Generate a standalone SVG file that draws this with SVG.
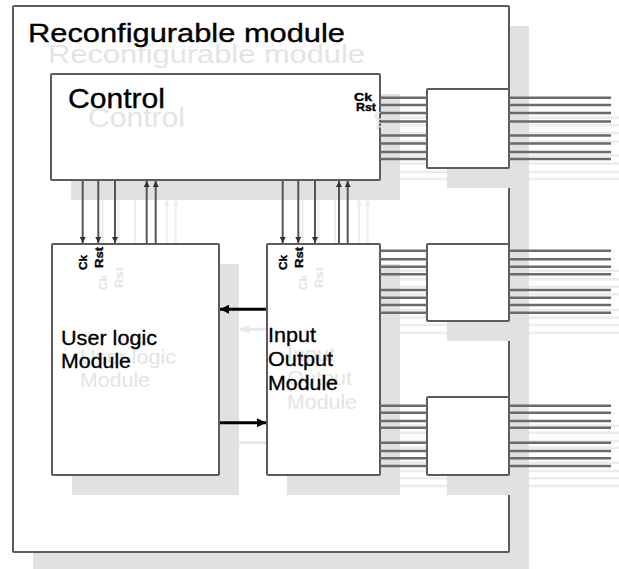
<svg xmlns="http://www.w3.org/2000/svg" width="619" height="569" viewBox="0 0 619 569">
<style>
text{font-family:"Liberation Sans",Arial,sans-serif;}
.box{fill:#fff;stroke:#5c5c5c;stroke-width:2;}
.bsh{fill:#e1e1e1;stroke:none;}
.t{fill:#000;stroke:#000;stroke-width:0.35;}
.ts{fill:#e4e4e4;}
.lbl{font-size:11px;font-weight:bold;}
.wire{stroke:#6a6a6a;stroke-width:2.4;fill:none;}
.wsh{stroke:#ececec;stroke-width:2.4;fill:none;}
.va{stroke:#555;stroke-width:2;fill:none;marker-end:url(#sa);}
.vas{stroke:#ededed;stroke-width:2;fill:none;marker-end:url(#sas);}
.ba{stroke:#000;stroke-width:3;fill:none;marker-end:url(#ba);}
.bas{stroke:#e8e8e8;stroke-width:3;fill:none;marker-end:url(#bas);}
</style>
<defs>
<marker id="sa" markerUnits="userSpaceOnUse" markerWidth="6" markerHeight="6" refX="6" refY="3" orient="auto"><path d="M0,0 L6,3 L0,6 z" fill="#333"/></marker>
<marker id="sas" markerUnits="userSpaceOnUse" markerWidth="6" markerHeight="6" refX="6" refY="3" orient="auto"><path d="M0,0 L6,3 L0,6 z" fill="#ededed"/></marker>
<marker id="ba" markerUnits="userSpaceOnUse" markerWidth="10" markerHeight="10" refX="9" refY="4.5" orient="auto"><path d="M0,0 L9,4.5 L0,9 z" fill="#000"/></marker>
<marker id="bas" markerUnits="userSpaceOnUse" markerWidth="10" markerHeight="10" refX="9" refY="4.5" orient="auto"><path d="M0,0 L9,4.5 L0,9 z" fill="#e8e8e8"/></marker>
</defs>

<g id="reconfigurable-module">
<rect class="bsh" x="33" y="26" width="496" height="546"/>
<rect class="box" x="13" y="6" width="496" height="546" rx="1"/>
<text class="ts" x="48" y="63" font-size="26" textLength="317" lengthAdjust="spacingAndGlyphs">Reconfigurable module</text>
<text class="t" x="28" y="42" font-size="26" textLength="317" lengthAdjust="spacingAndGlyphs">Reconfigurable module</text>
</g>

<g id="control">
<rect class="bsh" x="71" y="94" width="329" height="106"/>
<rect class="box" x="51" y="74" width="329" height="106" rx="1"/>
<text class="ts" x="88" y="127" font-size="28" textLength="97" lengthAdjust="spacingAndGlyphs">Control</text>
<text class="t" x="68" y="108" font-size="28" textLength="97" lengthAdjust="spacingAndGlyphs">Control</text>
<text class="ts lbl" x="374" y="120" textLength="18" lengthAdjust="spacingAndGlyphs">Ck</text>
<text class="ts lbl" x="376" y="130" textLength="20" lengthAdjust="spacingAndGlyphs">Rst</text>
<text class="t lbl" x="354" y="101" textLength="18" lengthAdjust="spacingAndGlyphs">Ck</text>
<text class="t lbl" x="356" y="111" textLength="20" lengthAdjust="spacingAndGlyphs">Rst</text>
</g>

<g id="connectors-shadow">
<path class="wsh" d="M400,117.7H447M400,125H447M400,133H447M400,141.5H447M400,155.5H447M400,163.5H447M400,172H447M400,179H447"/>
<path class="wsh" d="M529,117.7H631M529,125H631M529,133H631M529,141.5H631M529,155.5H631M529,163.5H631M529,172H631M529,179H631"/>
<path class="wsh" d="M400,270.7H447M400,279.3H447M400,286.7H447M400,294.3H447M400,310H447M400,317.7H447M400,325H447M400,332.7H447"/>
<path class="wsh" d="M529,270.7H631M529,279.3H631M529,286.7H631M529,294.3H631M529,310H631M529,317.7H631M529,325H631M529,332.7H631"/>
<path class="wsh" d="M400,425.7H447M400,432.7H447M400,441H447M400,447.7H447M400,462.7H447M400,471H447M400,478.3H447M400,486H447"/>
<path class="wsh" d="M529,425.7H631M529,432.7H631M529,441H631M529,447.7H631M529,462.7H631M529,471H631M529,478.3H631M529,486H631"/>
<line class="vas" x1="102.7" y1="200" x2="102.7" y2="264"/>
<line class="vas" x1="118.3" y1="200" x2="118.3" y2="264"/>
<line class="vas" x1="135" y1="200" x2="135" y2="264"/>
<line class="vas" x1="166.7" y1="264" x2="166.7" y2="200"/>
<line class="vas" x1="175.7" y1="264" x2="175.7" y2="200"/>
<line class="vas" x1="302.7" y1="200" x2="302.7" y2="264"/>
<line class="vas" x1="318.3" y1="200" x2="318.3" y2="264"/>
<line class="vas" x1="335" y1="200" x2="335" y2="264"/>
<line class="vas" x1="359" y1="264" x2="359" y2="200"/>
<line class="vas" x1="367.7" y1="264" x2="367.7" y2="200"/>
<line class="bas" x1="286.7" y1="329.3" x2="240" y2="329.3"/>
<line class="bas" x1="239" y1="442.7" x2="286.7" y2="442.7"/>
</g>

<g id="user-logic-module">
<rect class="bsh" x="72" y="264" width="167" height="231"/>
<rect class="box" x="52" y="244" width="167" height="231" rx="1"/>
<text class="ts" x="80" y="364" font-size="21" textLength="96" lengthAdjust="spacingAndGlyphs">User logic</text>
<text class="ts" x="80" y="387" font-size="21" textLength="70" lengthAdjust="spacingAndGlyphs">Module</text>
<text class="t" x="61" y="345" font-size="21" textLength="96" lengthAdjust="spacingAndGlyphs">User logic</text>
<text class="t" x="61" y="368" font-size="21" textLength="70" lengthAdjust="spacingAndGlyphs">Module</text>
<text class="ts lbl" transform="translate(106.5,290) rotate(-90)" textLength="15" lengthAdjust="spacingAndGlyphs">Ck</text>
<text class="ts lbl" transform="translate(123,288) rotate(-90)" textLength="21" lengthAdjust="spacingAndGlyphs">Rst</text>
<text class="t lbl" transform="translate(86.5,270) rotate(-90)" textLength="15" lengthAdjust="spacingAndGlyphs">Ck</text>
<text class="t lbl" transform="translate(103,268) rotate(-90)" textLength="21" lengthAdjust="spacingAndGlyphs">Rst</text>
</g>

<g id="input-output-module">
<rect class="bsh" x="287" y="264" width="113" height="231"/>
<rect class="box" x="267" y="244" width="113" height="231" rx="1"/>
<text class="ts" x="287" y="361" font-size="21" textLength="48" lengthAdjust="spacingAndGlyphs">Input</text>
<text class="ts" x="287" y="385" font-size="21" textLength="65" lengthAdjust="spacingAndGlyphs">Output</text>
<text class="ts" x="287" y="408.5" font-size="21" textLength="70" lengthAdjust="spacingAndGlyphs">Module</text>
<text class="t" x="268" y="342" font-size="21" textLength="48" lengthAdjust="spacingAndGlyphs">Input</text>
<text class="t" x="268" y="365.5" font-size="21" textLength="65" lengthAdjust="spacingAndGlyphs">Output</text>
<text class="t" x="268" y="389.5" font-size="21" textLength="70" lengthAdjust="spacingAndGlyphs">Module</text>
<text class="ts lbl" transform="translate(306.5,290) rotate(-90)" textLength="15" lengthAdjust="spacingAndGlyphs">Ck</text>
<text class="ts lbl" transform="translate(323,288) rotate(-90)" textLength="21" lengthAdjust="spacingAndGlyphs">Rst</text>
<text class="t lbl" transform="translate(286.5,270) rotate(-90)" textLength="15" lengthAdjust="spacingAndGlyphs">Ck</text>
<text class="t lbl" transform="translate(303,268) rotate(-90)" textLength="21" lengthAdjust="spacingAndGlyphs">Rst</text>
</g>

<g id="io-block-1">
<rect class="bsh" x="447" y="109" width="82" height="79"/>
<rect class="box" x="427" y="89" width="82" height="79" rx="1"/>
</g>
<g id="io-block-2">
<rect class="bsh" x="447" y="264" width="82" height="77"/>
<rect class="box" x="427" y="244" width="82" height="77" rx="1"/>
</g>
<g id="io-block-3">
<rect class="bsh" x="447" y="417" width="82" height="78"/>
<rect class="box" x="427" y="397" width="82" height="78" rx="1"/>
</g>

<g id="connectors">
<path class="wire" d="M380,97.7H427M380,105H427M380,113H427M380,121.5H427M380,135.5H427M380,143.5H427M380,152H427M380,159H427"/>
<path class="wire" d="M509,97.7H611M509,105H611M509,113H611M509,121.5H611M509,135.5H611M509,143.5H611M509,152H611M509,159H611"/>
<path class="wire" d="M380,250.7H427M380,259.3H427M380,266.7H427M380,274.3H427M380,290H427M380,297.7H427M380,305H427M380,312.7H427"/>
<path class="wire" d="M509,250.7H611M509,259.3H611M509,266.7H611M509,274.3H611M509,290H611M509,297.7H611M509,305H611M509,312.7H611"/>
<path class="wire" d="M380,405.7H427M380,412.7H427M380,421H427M380,427.7H427M380,442.7H427M380,451H427M380,458.3H427M380,466H427"/>
<path class="wire" d="M509,405.7H611M509,412.7H611M509,421H611M509,427.7H611M509,442.7H611M509,451H611M509,458.3H611M509,466H611"/>
<line class="va" x1="82.7" y1="181" x2="82.7" y2="243"/>
<line class="va" x1="98.3" y1="181" x2="98.3" y2="243"/>
<line class="va" x1="115" y1="181" x2="115" y2="243"/>
<line class="va" x1="146.7" y1="243" x2="146.7" y2="181"/>
<line class="va" x1="155.7" y1="243" x2="155.7" y2="181"/>
<line class="va" x1="282.7" y1="181" x2="282.7" y2="243"/>
<line class="va" x1="298.3" y1="181" x2="298.3" y2="243"/>
<line class="va" x1="315" y1="181" x2="315" y2="243"/>
<line class="va" x1="339" y1="243" x2="339" y2="181"/>
<line class="va" x1="347.7" y1="243" x2="347.7" y2="181"/>
<line class="ba" x1="266" y1="309.3" x2="220" y2="309.3"/>
<line class="ba" x1="220" y1="422.7" x2="266" y2="422.7"/>
</g>
</svg>
